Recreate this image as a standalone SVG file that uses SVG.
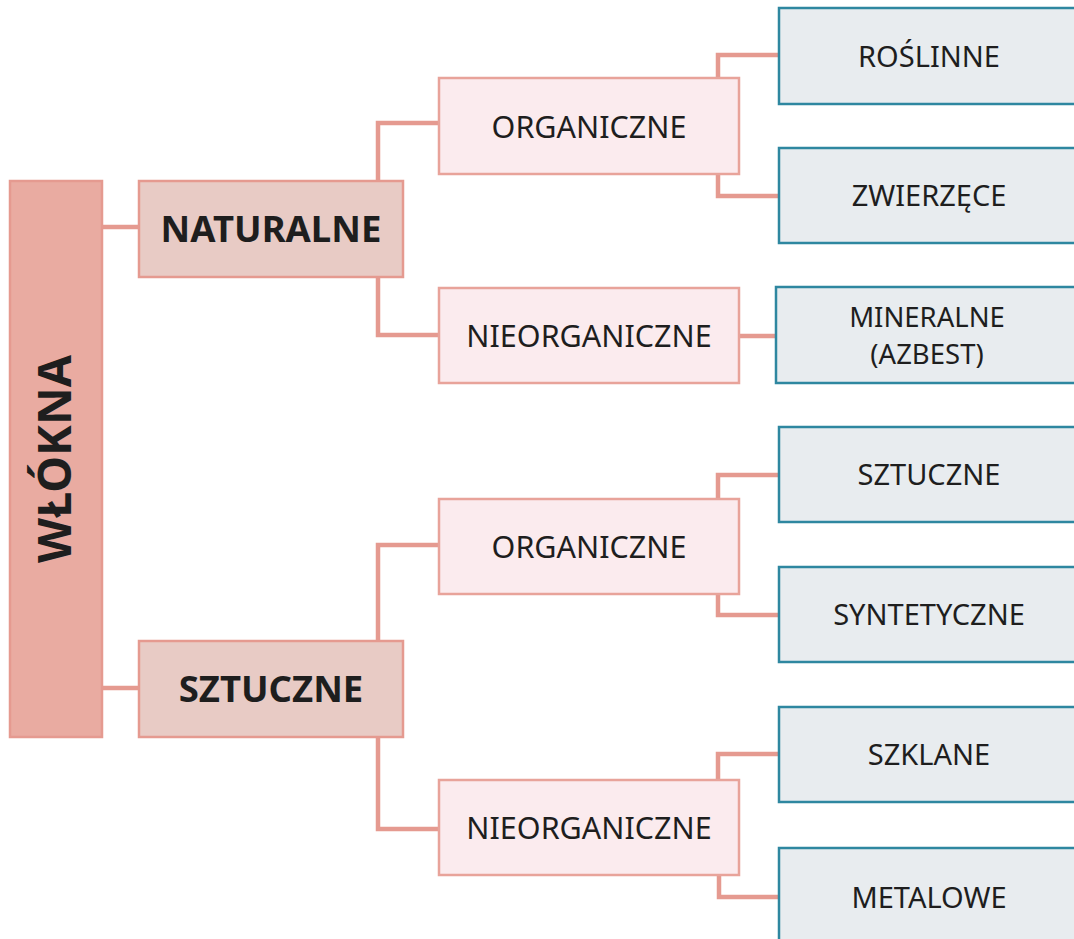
<svg xmlns="http://www.w3.org/2000/svg" width="1074" height="939" viewBox="0 0 1074 939">
<style>
.root{fill:#E9ABA1;stroke:#E59A90;stroke-width:2.5}
.l1{fill:#E8CBC5;stroke:#E59A90;stroke-width:2.5}
.l2{fill:#FBEBEE;stroke:#E8A39A;stroke-width:2.5}
.l3{fill:#E8ECEF;stroke:#2E87A0;stroke-width:2.5}
.c{fill:none;stroke:#E59A90;stroke-width:4.5}
text{font-family:"Noto Sans","Open Sans","DejaVu Sans",sans-serif;fill:#1E1E1E;text-anchor:middle}
.b{font-weight:bold;font-size:36.5px}
.m{font-size:30.5px}
.s{font-size:29px}
.t{font-size:27.5px}
</style>
<rect width="1074" height="939" fill="#ffffff"/>
<g id="connectors">
<path class="c" d="M102 227H139"/>
<path class="c" d="M102 688H139"/>
<path class="c" d="M378 181V123H439"/>
<path class="c" d="M378 278V335H439"/>
<path class="c" d="M378 641V545H439"/>
<path class="c" d="M378 737V829H439"/>
<path class="c" d="M718 78V55H779"/>
<path class="c" d="M718 174V196H779"/>
<path class="c" d="M739 336H776"/>
<path class="c" d="M718 499V475H779"/>
<path class="c" d="M718 594V615H779"/>
<path class="c" d="M718 780V754H779"/>
<path class="c" d="M719 875V897H779"/>
</g>
<g id="wlokna"><rect class="root" x="10" y="181" width="92" height="556"/><text class="b" style="font-size:46.5px" transform="translate(71,459) rotate(-90)">WŁÓKNA</text></g>
<g id="naturalne"><rect class="l1" x="139" y="181" width="264" height="96"/><text class="b" x="271" y="242">NATURALNE</text></g>
<g id="sztuczne"><rect class="l1" x="139" y="641" width="264" height="96"/><text class="b" x="271" y="702">SZTUCZNE</text></g>
<g id="nat-org"><rect class="l2" x="439" y="78" width="300" height="96"/><text class="m" x="589" y="138">ORGANICZNE</text></g>
<g id="nat-nieorg"><rect class="l2" x="439" y="288" width="300" height="95"/><text class="m" x="589" y="347">NIEORGANICZNE</text></g>
<g id="szt-org"><rect class="l2" x="439" y="499" width="300" height="95"/><text class="m" x="589" y="558">ORGANICZNE</text></g>
<g id="szt-nieorg"><rect class="l2" x="439" y="780" width="300" height="95"/><text class="m" x="589" y="839">NIEORGANICZNE</text></g>
<g id="roslinne"><rect class="l3" x="779" y="8" width="300" height="96"/><text class="s" x="929" y="67">ROŚLINNE</text></g>
<g id="zwierzece"><rect class="l3" x="779" y="148" width="300" height="95"/><text class="s" x="929" y="206">ZWIERZĘCE</text></g>
<g id="mineralne"><rect class="l3" x="776" y="287" width="303" height="96"/><text class="t" x="927" y="327">MINERALNE</text><text class="t" x="927" y="364">(AZBEST)</text></g>
<g id="sztuczne-leaf"><rect class="l3" x="779" y="427" width="300" height="95"/><text class="s" x="929" y="485">SZTUCZNE</text></g>
<g id="syntetyczne"><rect class="l3" x="779" y="567" width="300" height="95"/><text class="s" x="929" y="625">SYNTETYCZNE</text></g>
<g id="szklane"><rect class="l3" x="779" y="707" width="300" height="95"/><text class="s" x="929" y="765">SZKLANE</text></g>
<g id="metalowe"><rect class="l3" x="779" y="848" width="300" height="100"/><text class="s" x="929" y="908">METALOWE</text></g>
</svg>
